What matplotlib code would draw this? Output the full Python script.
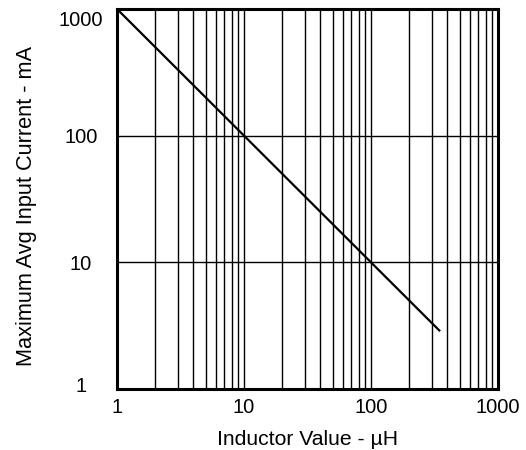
import numpy as np
import matplotlib.pyplot as plt
import matplotlib.transforms as mtransforms
from matplotlib.ticker import FixedLocator, NullFormatter

plt.rcParams['font.family'] = ['Liberation Sans', 'DejaVu Sans']

# inductor value (uH) vs maximum average input current (mA)
inductance = [1, 350]
current = [1000, 2.857]

x_ticks = [1, 10, 100, 1000]
y_ticks = [1, 10, 100, 1000]
x_minor = [m * d for d in (1, 10, 100) for m in range(2, 10)]

fig = plt.figure(figsize=(5.26, 4.5), dpi=100)
ax = fig.add_axes([117 / 526, 1 - 389 / 450, 381 / 526, 380 / 450])

ax.plot(inductance, current, color='black', lw=1.6, solid_capstyle='butt')

ax.set_xscale('log')
ax.set_yscale('log')
ax.set_xlim(1, 1000)
ax.set_ylim(1, 1000)

ax.xaxis.set_major_locator(FixedLocator(x_ticks))
ax.xaxis.set_minor_locator(FixedLocator(x_minor))
ax.xaxis.set_minor_formatter(NullFormatter())
ax.yaxis.set_major_locator(FixedLocator(y_ticks))
ax.yaxis.set_minor_locator(FixedLocator([]))
ax.set_xticklabels([str(v) for v in x_ticks])
ax.set_yticklabels([str(v) for v in y_ticks], ha='center')

ax.grid(True, which='major', axis='both', color='black', lw=1.0)
ax.grid(True, which='minor', axis='x', color='black', lw=1.0)
ax.tick_params(which='both', length=0, labelsize=14.5)
ax.tick_params(axis='x', pad=6.8)
ax.tick_params(axis='y', pad=26)

# end labels sit inside the frame on the y axis
ylabels = ax.get_yticklabels()
down = mtransforms.ScaledTranslation(0, -10 / 100, fig.dpi_scale_trans)
up = mtransforms.ScaledTranslation(0, 4 / 100, fig.dpi_scale_trans)
ylabels[-1].set_transform(ylabels[-1].get_transform() + down)
ylabels[0].set_transform(ylabels[0].get_transform() + up)

for s in ax.spines.values():
    s.set_linewidth(2.2)
    s.set_color('black')

ax.set_xlabel('Inductor Value - µH', fontsize=15.2)
ax.set_ylabel('Maximum Avg Input Current - mA', fontsize=15.7)
ax.xaxis.set_label_coords(0.5, -0.108)
ax.yaxis.set_label_coords(-0.211, 0.481)

fig.savefig('out.png', dpi=100)
